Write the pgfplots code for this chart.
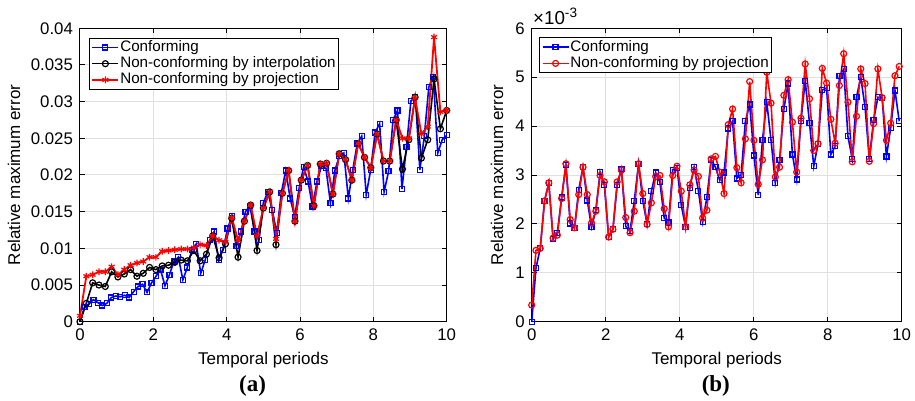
\documentclass[border=0pt]{standalone}
\usepackage{fontspec}
\setmainfont{Liberation Sans}
\newfontfamily\capfont{Liberation Serif}
\usepackage{pgfplots}
\usepackage{pgfplotstable}
\pgfplotsset{compat=1.18}

\definecolor{mblue}{RGB}{0,0,255}
\definecolor{mred}{RGB}{255,0,0}
\definecolor{mgrid}{RGB}{224,224,224}

% ---- panel (a): relative maximum error
\pgfplotstableread{
t e
0.000 0.0000
0.122 0.0020
0.244 0.0024
0.366 0.0030
0.488 0.0026
0.610 0.0022
0.732 0.0025
0.854 0.0033
0.976 0.0035
1.098 0.0034
1.220 0.0036
1.341 0.0033
1.463 0.0041
1.585 0.0048
1.707 0.0051
1.829 0.0040
1.951 0.0053
2.073 0.0062
2.195 0.0071
2.317 0.0049
2.439 0.0064
2.561 0.0082
2.683 0.0088
2.805 0.0057
2.927 0.0074
3.049 0.0098
3.171 0.0106
3.293 0.0066
3.415 0.0084
3.537 0.0111
3.659 0.0123
3.780 0.0084
3.902 0.0098
4.024 0.0127
4.146 0.0144
4.268 0.0103
4.390 0.0123
4.512 0.0150
4.634 0.0158
4.756 0.0123
4.878 0.0111
5.000 0.0162
5.122 0.0177
5.244 0.0152
5.366 0.0121
5.488 0.0175
5.610 0.0206
5.732 0.0168
5.854 0.0143
5.976 0.0182
6.098 0.0211
6.220 0.0191
6.341 0.0157
6.463 0.0191
6.585 0.0212
6.707 0.0209
6.829 0.0162
6.951 0.0206
7.073 0.0226
7.195 0.0230
7.317 0.0168
7.439 0.0207
7.561 0.0243
7.683 0.0253
7.805 0.0173
7.927 0.0207
8.049 0.0258
8.171 0.0270
8.293 0.0177
8.415 0.0205
8.537 0.0275
8.659 0.0288
8.780 0.0181
8.902 0.0238
9.024 0.0301
9.146 0.0306
9.268 0.0207
9.390 0.0253
9.512 0.0320
9.634 0.0334
9.756 0.0230
9.878 0.0248
10.000 0.0254
}\confA

\pgfplotstableread{
t e
0.000 0.0000
0.172 0.0025
0.345 0.0053
0.517 0.0050
0.690 0.0048
0.862 0.0068
1.034 0.0061
1.207 0.0065
1.379 0.0071
1.552 0.0062
1.724 0.0066
1.897 0.0074
2.069 0.0071
2.241 0.0076
2.414 0.0077
2.586 0.0081
2.759 0.0084
2.931 0.0083
3.103 0.0097
3.276 0.0083
3.448 0.0092
3.621 0.0117
3.793 0.0087
3.966 0.0106
4.138 0.0141
4.310 0.0088
4.483 0.0137
4.655 0.0159
4.828 0.0097
5.000 0.0155
5.172 0.0177
5.345 0.0105
5.517 0.0175
5.690 0.0206
5.862 0.0137
6.034 0.0193
6.207 0.0213
6.379 0.0158
6.552 0.0215
6.724 0.0216
6.897 0.0174
7.069 0.0229
7.241 0.0221
7.414 0.0193
7.586 0.0243
7.759 0.0224
7.931 0.0210
8.103 0.0256
8.276 0.0219
8.448 0.0219
8.621 0.0275
8.793 0.0208
8.966 0.0248
9.138 0.0306
9.310 0.0223
9.483 0.0248
9.655 0.0331
9.828 0.0263
10.000 0.0288
}\interpA

\pgfplotstableread{
t e
0.000 0.0008
0.172 0.0062
0.345 0.0064
0.517 0.0068
0.690 0.0068
0.862 0.0075
1.034 0.0064
1.207 0.0071
1.379 0.0077
1.552 0.0080
1.724 0.0082
1.897 0.0088
2.069 0.0088
2.241 0.0096
2.414 0.0097
2.586 0.0098
2.759 0.0099
2.931 0.0099
3.103 0.0101
3.276 0.0105
3.448 0.0104
3.621 0.0117
3.793 0.0111
3.966 0.0109
4.138 0.0142
4.310 0.0111
4.483 0.0137
4.655 0.0159
4.828 0.0117
5.000 0.0155
5.172 0.0177
5.345 0.0113
5.517 0.0175
5.690 0.0206
5.862 0.0137
6.034 0.0193
6.207 0.0213
6.379 0.0158
6.552 0.0215
6.724 0.0216
6.897 0.0174
7.069 0.0229
7.241 0.0221
7.414 0.0193
7.586 0.0243
7.759 0.0224
7.931 0.0210
8.103 0.0256
8.276 0.0219
8.448 0.0219
8.621 0.0275
8.793 0.0250
8.966 0.0250
9.138 0.0305
9.310 0.0256
9.483 0.0266
9.655 0.0388
9.828 0.0286
10.000 0.0288
}\projA

% ---- panel (b): values in units of 1e-3
\pgfplotstableread{
t c p
0.000 0.00 0.34
0.116 1.10 1.46
0.231 1.50 1.50
0.347 2.47 2.47
0.462 2.84 2.84
0.578 1.69 1.71
0.693 1.82 1.77
0.809 2.54 2.52
0.924 3.20 3.23
1.040 2.01 2.09
1.155 1.91 1.92
1.271 2.70 2.60
1.386 3.16 3.16
1.502 2.48 2.60
1.617 1.93 2.02
1.733 2.28 2.26
1.848 3.06 2.99
1.964 2.79 2.86
2.079 1.73 1.73
2.195 1.89 1.89
2.310 2.79 2.86
2.426 3.12 3.10
2.541 1.95 2.13
2.657 1.85 1.82
2.772 2.47 2.26
2.888 3.23 3.23
3.003 2.47 2.62
3.119 1.99 1.99
3.234 2.67 2.43
3.350 3.05 2.97
3.465 2.85 2.99
3.581 2.12 2.31
3.696 2.03 1.94
3.812 3.11 2.99
3.927 3.15 3.18
4.043 2.38 2.67
4.158 1.94 1.94
4.274 2.74 2.80
4.389 3.16 3.10
4.505 2.68 2.97
4.620 2.04 2.12
4.736 2.55 2.28
4.851 3.31 3.33
4.967 3.16 3.38
5.082 2.89 3.06
5.198 3.05 2.62
5.313 3.95 4.03
5.429 4.10 4.35
5.544 2.93 3.15
5.660 3.00 2.84
5.775 4.10 3.74
5.891 4.44 4.91
6.006 3.40 3.71
6.122 2.59 2.81
6.237 3.72 3.31
6.353 4.49 5.10
6.468 3.71 4.47
6.584 2.84 2.96
6.699 3.30 3.16
6.815 4.35 4.63
6.930 4.87 4.95
7.046 3.42 4.08
7.161 2.91 3.06
7.277 4.10 4.16
7.392 4.93 5.27
7.508 4.06 4.56
7.623 3.18 3.50
7.739 3.64 3.64
7.854 4.74 5.18
7.970 4.78 4.88
8.085 3.42 4.14
8.201 3.59 3.65
8.316 5.03 4.83
8.432 5.16 5.48
8.547 3.79 4.49
8.663 3.33 3.27
8.778 4.59 4.20
8.894 5.00 5.17
9.009 4.39 4.87
9.125 3.33 3.28
9.240 4.12 4.05
9.356 4.59 5.17
9.471 4.58 4.58
9.587 3.38 3.71
9.702 3.96 4.06
9.818 4.73 5.03
9.933 4.10 5.22
}\panelB

\pgfplotsset{
  mlab/.style={
    scale only axis,
    anchor=south west,
    height=146.7pt,
    xmin=0, xmax=10,
    xtick={0,2,4,6,8,10},
    grid=major,
    major grid style={mgrid, line width=0.5pt},
    axis line style={black, line width=0.5pt},
    tick align=inside,
    xtick pos=both, ytick pos=both,
    major tick length=2.5pt,
    every tick/.style={black, line width=0.5pt},
    tick label style={font=\fontsize{8.4}{9}\selectfont},
    /pgf/number format/assume math mode=true,
    label style={font=\fontsize{8.5}{10}\selectfont},
    xlabel={Temporal periods},
    ylabel={Relative maximum error},
    xlabel style={at={(axis description cs:0.5,-0.132)}, anchor=center},
    legend cell align=left,
    legend image code/.code={%
      \draw[mark repeat=2,mark phase=2,##1] plot coordinates {(0pt,0pt) (6.5pt,0pt) (13pt,0pt)};},
    legend style={font=\fontsize{7.6}{8}\selectfont, draw=black, line width=0.5pt,
      inner xsep=1pt, inner ysep=0.6pt,
      nodes={inner sep=0.5pt, text height=5.5pt, text depth=1.6pt},
      cells={anchor=west}},
  },
  cline/.style={mblue, line width=0.8pt, mark=square, mark size=1.25pt, mark options={solid, line width=0.6pt}},
  iline/.style={black, line width=0.8pt, mark=o, mark size=1.5pt, mark options={solid, line width=0.6pt}},
  pline/.style={mred, line width=0.9pt, mark=asterisk, mark size=1.7pt, mark options={solid, line width=0.6pt}},
  qline/.style={mred, line width=0.8pt, mark=o, mark size=1.5pt, mark options={solid, line width=0.6pt}},
}

\begin{document}
\begin{tikzpicture}
\path[use as bounding box] (0,0) rectangle (457.5pt,200.5pt);

\begin{axis}[mlab,
  at={(40pt,39.65pt)}, width=183.35pt,
  ymin=0, ymax=0.04,
  ytick={0,0.005,0.01,0.015,0.02,0.025,0.03,0.035,0.04},
  yticklabels={0,0.005,0.01,0.015,0.02,0.025,0.03,0.035,0.04},
  scaled y ticks=false,
  ylabel style={at={(axis description cs:-0.18,0.5)}, anchor=center},
  legend style={at={(0.0245,0.968)}, anchor=north west},
]
\addplot[cline] table[x=t, y=e] {\confA};
\addplot[iline] table[x=t, y=e] {\interpA};
\addplot[pline] table[x=t, y=e] {\projA};
\legend{Conforming, Non-conforming by interpolation, Non-conforming by projection}
\end{axis}

\begin{axis}[mlab, name=axB,
  at={(265.85pt,39.65pt)}, width=185pt,
  ymin=0, ymax=6,
  ytick={0,1,2,3,4,5,6},
  ylabel style={at={(axis description cs:-0.094,0.5)}, anchor=center},
  legend style={at={(0.0205,0.969)}, anchor=north west},
]
\addplot[cline] table[x=t, y=c] {\panelB};
\addplot[qline] table[x=t, y=p] {\panelB};
\legend{Conforming, Non-conforming by projection}
\end{axis}

\node[anchor=base west, inner sep=0pt, font=\fontsize{9.4}{10}\selectfont]
  at ([xshift=0.5pt, yshift=2.15pt]axB.north west) {×10\raisebox{3.2pt}{\fontsize{6.8}{7}\selectfont -3}};

\node[font=\capfont\bfseries\fontsize{11.5}{12}\selectfont] at (126.25pt,7.5pt) {(a)};
\node[font=\capfont\bfseries\fontsize{11.5}{12}\selectfont] at (357.9pt,7.5pt) {(b)};
\end{tikzpicture}
\end{document}
